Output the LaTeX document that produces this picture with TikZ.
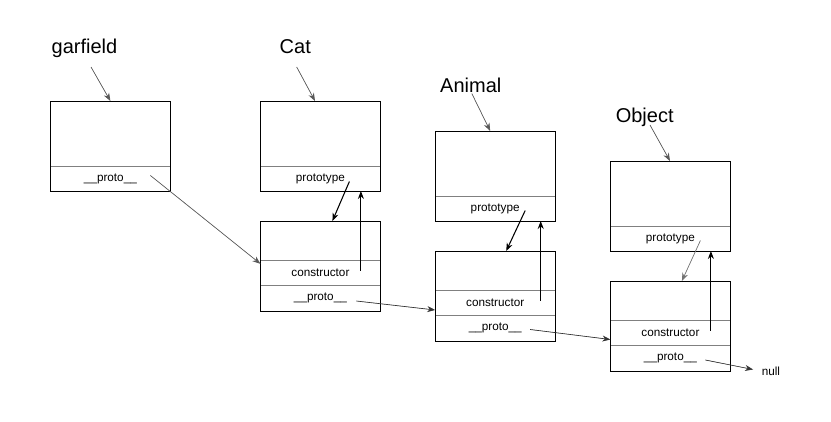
\documentclass[tikz,border=0pt]{standalone}
\usepackage{fontspec}
\setmainfont{Liberation Sans}
\usetikzlibrary{positioning,arrows.meta}

\begin{document}
\begin{tikzpicture}[x=0.75pt, y=-0.75pt, >={Stealth[length=6pt,width=4.5pt]},
  cell/.style={draw=gray, line width=0.5pt, outer sep=0pt, inner sep=0pt, minimum width=90pt, minimum height=18.75pt, font=\fontsize{8.8}{10}\selectfont},
  head/.style={cell, minimum height=48.75pt},
  blank/.style={cell, minimum height=29.25pt},
  protorow/.style={cell, minimum height=19.5pt},
  objname/.style={font=\fontsize{15}{18}\selectfont, inner sep=0pt, anchor=base},
  thinarrow/.style={->, draw=black!65, fill=black!65, line width=0.5pt},
  bigarrow/.style={->, black, line width=0.8pt}]

\useasboundingbox (0,0) rectangle (831,421);

% names
\node [objname] (garL) at (84.5,53)  {garfield};
\node [objname] (catL) at (295.3,53) {Cat};
\node [objname] (aniL) at (470.8,92) {Animal};
\node [objname] (objL) at (644.7,122) {Object};

% garfield
\node [head] (garH) at (110.4,133.5) {};
\node [cell, below=0pt of garH] (garP) {\_\_proto\_\_};
\draw [line width=0.6pt] (garH.north west) rectangle (garP.south east);

% Cat
\node [head] (catH) at (320.4,133.5) {};
\node [cell, below=0pt of catH] (catP) {prototype};
\draw [line width=0.6pt] (catH.north west) rectangle (catP.south east);
\node [blank, below=22.5pt of catP] (catB) {};
\node [cell, below=0pt of catB] (catC) {constructor};
\node [protorow, below=0pt of catC] (catQ) {\_\_proto\_\_};
\draw [line width=0.6pt] (catB.north west) rectangle (catQ.south east);

% Animal
\node [head] (aniH) at (495.2,163.5) {};
\node [cell, below=0pt of aniH] (aniP) {prototype};
\draw [line width=0.6pt] (aniH.north west) rectangle (aniP.south east);
\node [blank, below=22.5pt of aniP] (aniB) {};
\node [cell, below=0pt of aniB] (aniC) {constructor};
\node [protorow, below=0pt of aniC] (aniQ) {\_\_proto\_\_};
\draw [line width=0.6pt] (aniB.north west) rectangle (aniQ.south east);

% Object
\node [head] (objH) at (670.4,193.5) {};
\node [cell, below=0pt of objH] (objP) {prototype};
\draw [line width=0.6pt] (objH.north west) rectangle (objP.south east);
\node [blank, below=22.5pt of objP] (objB) {};
\node [cell, below=0pt of objB] (objC) {constructor};
\node [protorow, below=0pt of objC] (objQ) {\_\_proto\_\_};
\draw [line width=0.6pt] (objB.north west) rectangle (objQ.south east);

\node [font=\fontsize{8.8}{10}\selectfont, inner xsep=6.3pt, inner ysep=0pt] (null) at (770.9,371) {null};

% name -> object
\draw [thinarrow] ([shift={(6.5,14)}]garL.base)  -- (garH.north);
\draw [thinarrow] ([shift={(1.4,14)}]catL.base)  -- ([shift={(-5.4,0)}]catH.north);
\draw [thinarrow] ([shift={(1,1.5)}]aniL.base)   -- ([shift={(-5,0)}]aniH.north);
\draw [thinarrow] ([shift={(5.3,3)}]objL.base)   -- ([shift={(-0.4,0)}]objH.north);

% prototype <-> constructor
\draw [bigarrow] ([shift={(29,3)}]catP.center) -- ([shift={(12,0)}]catB.north);
\draw [bigarrow] ([shift={(40.5,-2)}]catC.center) -- ([shift={(40.5,0)}]catP.south);
\draw [bigarrow] ([shift={(30,2)}]aniP.center) -- ([shift={(11,0)}]aniB.north);
\draw [bigarrow] ([shift={(45.5,-2)}]aniC.center) -- ([shift={(45.5,0)}]aniP.south);
\draw [thinarrow, draw=black!55, fill=black!55] ([shift={(30,2)}]objP.center) -- ([shift={(11.5,0)}]objB.north);
\draw [bigarrow] ([shift={(40.5,-2)}]objC.center) -- ([shift={(40.5,0)}]objP.south);

% __proto__ chain
\draw [thinarrow] ([shift={(40,-3)}]garP.center) -- ([shift={(0,-8.7)}]catC.west);
\draw [thinarrow, draw=black!80, fill=black!80] ([shift={(36,3)}]catQ.center) -- ([shift={(0,7.5)}]aniC.west);
\draw [thinarrow, draw=black!80, fill=black!80] ([shift={(35,1.5)}]aniQ.center) -- ([shift={(0,7)}]objC.west);
\draw [thinarrow, draw=black!80, fill=black!80] ([shift={(35,2)}]objQ.center) -- ([shift={(0,-1.5)}]null.west);

\end{tikzpicture}
\end{document}
